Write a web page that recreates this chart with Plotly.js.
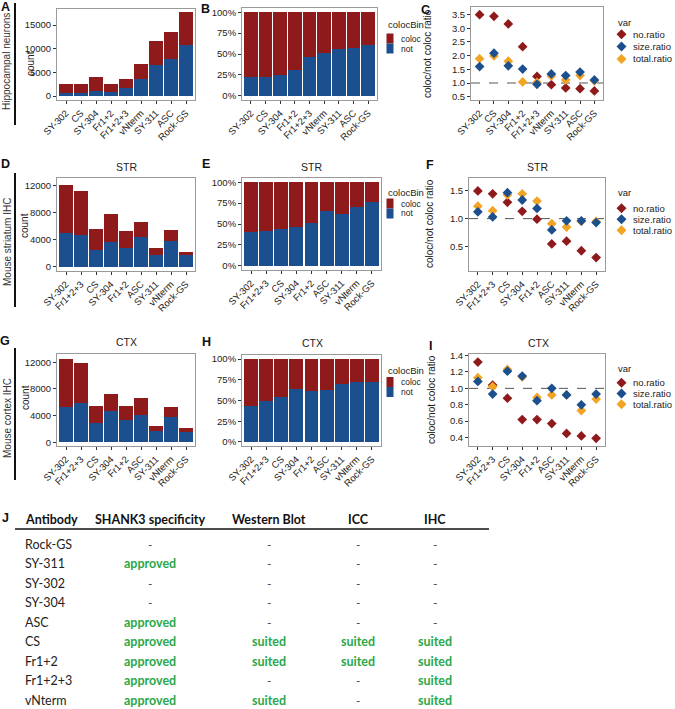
<!DOCTYPE html>
<html>
<head>
<meta charset="utf-8">
<script src="https://cdn.plot.ly/plotly-3.0.1.min.js"></script>
<style>html,body{margin:0;padding:0;background:#fff;}#chart{width:675px;height:709px;}</style>
</head>
<body>
<div id="chart"></div>
<script>
// ---------- DATA ----------
const hippoCats = ['SY-302','CS','SY-304','Fr1+2','Fr1+2+3','vNterm','SY-311','ASC','Rock-GS'];
const hippoNot   = [550, 550, 1000, 790, 1680, 3500, 6500, 7750, 10700];
const hippoColoc = [1910, 1910, 3080, 1810, 1980, 3260, 5200, 5850, 7000];
const hippoNoRatio    = [3.50, 3.44, 3.16, 2.33, 1.24, 0.94, 0.82, 0.79, 0.71];
const hippoSizeRatio  = [1.60, 2.09, 1.63, 1.51, 0.95, 1.33, 1.27, 1.40, 1.11];
const hippoTotalRatio = [1.89, 1.99, 1.80, 1.04, 1.02, 1.26, 1.11, 1.27, 1.08];

const mouseCats = ['SY-302','Fr1+2+3','CS','SY-304','Fr1+2','ASC','SY-311','vNterm','Rock-GS'];
const strNot   = [4940, 4640, 2470, 3630, 2720, 4350, 1730, 3800, 1690];
const strColoc = [7160, 6620, 3160, 4220, 2610, 2320, 1040, 1630, 530];
const strNoRatio    = [1.49, 1.44, 1.29, 1.13, 0.99, 0.55, 0.60, 0.43, 0.31];
const strSizeRatio  = [1.12, 1.03, 1.46, 1.33, 1.18, 0.80, 0.96, 0.96, 0.93];
const strTotalRatio = [1.22, 1.14, 1.42, 1.44, 1.31, 0.91, 0.85, 0.95, 0.95];

const ctxNot   = [5350, 5850, 2900, 4650, 3400, 4120, 1750, 3850, 1520];
const ctxColoc = [7150, 6000, 2500, 2600, 2100, 2480, 750, 1450, 580];
const ctxNoRatio    = [1.32, 1.04, 0.88, 0.62, 0.62, 0.57, 0.45, 0.42, 0.39];
const ctxSizeRatio  = [1.085, 0.93, 1.21, 1.15, 0.85, 1.00, 0.92, 0.80, 0.93];
const ctxTotalRatio = [1.13, 1.02, 1.23, 1.14, 0.89, 0.92, 0.92, 0.73, 0.87];

const binNames = ['coloc','not'];
const varNames = ['no.ratio','size.ratio','total.ratio'];

const tableHeader = ['Antibody','SHANK3 specificity','Western Blot','ICC','IHC'];
const tableAntibody    = ['Rock-GS','SY-311','SY-302','SY-304','ASC','CS','Fr1+2','Fr1+2+3','vNterm'];
const tableSpecificity = ['-','approved','-','-','approved','approved','approved','approved','approved'];
const tableWestern     = ['-','-','-','-','-','suited','suited','-','suited'];
const tableICC         = ['-','-','-','-','-','suited','suited','-','-'];
const tableIHC         = ['-','-','-','-','-','suited','suited','suited','suited'];

// ---------- STYLE / LAYOUT HELPERS ----------
const W = 675, H = 709;
const RED = '#8e1a1c', BLUE = '#1c4f8e', ORANGE = '#f2a425', GREEN = '#2aa84a';
const FONT = 'Liberation Sans, Arial, sans-serif';
const TFONT = 'Lato, Noto Sans, sans-serif';
const px = x => x / W;
const py = y => 1 - y / H;
const xdom = (a, b) => [a / W, b / W];
const ydom = (t, b) => [1 - b / H, 1 - t / H];

const panels = [
  {k:'',  x:[57,195],  y:[9,100],   yr:[-845, 18380], kind:'count', tv:[0,5000,10000,15000]},
  {k:'2', x:[242,377], y:[8,100],   yr:[-5,105], kind:'pct'},
  {k:'3', x:[471,603], y:[7,100],   yr:[0.378, 3.78], kind:'ratio', tv:[0.5,1,1.5,2,2.5,3,3.5]},
  {k:'4', x:[57,195],  y:[178,271], yr:[-637, 13140], kind:'count', tv:[0,4000,8000,12000]},
  {k:'5', x:[242,381], y:[178,270], yr:[-5,105], kind:'pct'},
  {k:'6', x:[469,605], y:[178,271], yr:[0.071, 1.72], kind:'ratio', tv:[0.5,1,1.5]},
  {k:'7', x:[57,195],  y:[354,446], yr:[-555, 13240], kind:'count', tv:[0,4000,8000,12000]},
  {k:'8', x:[242,381], y:[355,446], yr:[-5,105], kind:'pct'},
  {k:'9', x:[469,605], y:[354,446], yr:[0.297, 1.419], kind:'ratio', tv:[0.4,0.6,0.8,1.0,1.2,1.4]}
];

const layout = {
  width: W, height: H,
  margin: {l:0, r:0, t:0, b:0},
  paper_bgcolor: '#fff', plot_bgcolor: '#fff',
  barmode: 'stack', bargap: 0.08,
  showlegend: false,
  font: {family: FONT, size: 10, color: '#222'},
  annotations: [], shapes: []
};

function axisBase() {
  return {showline:true, mirror:true, linecolor:'#9a9a9a', linewidth:1,
    ticks:'outside', ticklen:3, tickwidth:1, tickcolor:'#333',
    showgrid:false, zeroline:false, fixedrange:true,
    tickfont:{family:FONT, size:9.5, color:'#222'}};
}

panels.forEach(p => {
  const xa = Object.assign(axisBase(), {
    domain: xdom(p.x[0], p.x[1]), anchor: 'y' + p.k, type:'category',
    range: [-0.6, 8.6], tickangle: -45
  });
  const ya = Object.assign(axisBase(), {
    domain: ydom(p.y[0], p.y[1]), anchor: 'x' + p.k, range: p.yr
  });
  if (p.kind === 'count') { ya.tickvals = p.tv; ya.tickformat = 'd'; }
  if (p.kind === 'pct') { ya.tickvals = [0,25,50,75,100]; ya.ticktext = ['0%','25%','50%','75%','100%']; }
  if (p.kind === 'ratio') { ya.tickvals = p.tv; ya.tickformat = '.1f'; }
  layout['xaxis' + p.k] = xa;
  layout['yaxis' + p.k] = ya;
  if (p.kind === 'ratio') {
    layout.shapes.push({type:'line', layer:'below', xref:'x' + p.k + ' domain', x0:0, x1:1,
      yref:'y' + p.k, y0:1, y1:1, line:{color:'#555', width:1, dash:'dash'}});
  }
});

// ---------- TRACES ----------
const traces = [];
function addCounts(cats, notV, colocV, k) {
  traces.push({type:'bar', x:cats, y:notV, name:binNames[1], marker:{color:BLUE}, xaxis:'x'+k, yaxis:'y'+k, hoverinfo:'skip'});
  traces.push({type:'bar', x:cats, y:colocV, name:binNames[0], marker:{color:RED}, xaxis:'x'+k, yaxis:'y'+k, hoverinfo:'skip'});
}
function addPct(cats, notV, colocV, k) {
  const pn = notV.map((v, i) => v / (v + colocV[i]) * 100);
  const pc = pn.map(v => 100 - v);
  traces.push({type:'bar', x:cats, y:pn, name:binNames[1], marker:{color:BLUE}, xaxis:'x'+k, yaxis:'y'+k, hoverinfo:'skip'});
  traces.push({type:'bar', x:cats, y:pc, name:binNames[0], marker:{color:RED}, xaxis:'x'+k, yaxis:'y'+k, hoverinfo:'skip'});
}
function addRatios(cats, noR, sizeR, totR, k) {
  const mk = c => ({symbol:'diamond', size:7.5, color:c, line:{width:0}});
  traces.push({type:'scatter', mode:'markers', x:cats, y:noR, name:varNames[0], marker:mk(RED), xaxis:'x'+k, yaxis:'y'+k, cliponaxis:false});
  traces.push({type:'scatter', mode:'markers', x:cats, y:totR, name:varNames[2], marker:mk(ORANGE), xaxis:'x'+k, yaxis:'y'+k, cliponaxis:false});
  traces.push({type:'scatter', mode:'markers', x:cats, y:sizeR, name:varNames[1], marker:mk(BLUE), xaxis:'x'+k, yaxis:'y'+k, cliponaxis:false});
}
addCounts(hippoCats, hippoNot, hippoColoc, '');
addPct(hippoCats, hippoNot, hippoColoc, '2');
addRatios(hippoCats, hippoNoRatio, hippoSizeRatio, hippoTotalRatio, '3');
addCounts(mouseCats, strNot, strColoc, '4');
addPct(mouseCats, strNot, strColoc, '5');
addRatios(mouseCats, strNoRatio, strSizeRatio, strTotalRatio, '6');
addCounts(mouseCats, ctxNot, ctxColoc, '7');
addPct(mouseCats, ctxNot, ctxColoc, '8');
addRatios(mouseCats, ctxNoRatio, ctxSizeRatio, ctxTotalRatio, '9');

// ---------- ANNOTATIONS ----------
function txt(x, y, text, opts) {
  layout.annotations.push(Object.assign({xref:'paper', yref:'paper', x:px(x), y:py(y), text:text,
    showarrow:false, xanchor:'center', yanchor:'middle', font:{family:FONT, size:10, color:'#222'}}, opts || {}));
}
// panel letters
[['A',5,7],['B',205,9],['C',425,10],['D',5,164],['E',206,164],['F',430,165],['G',5,341],['H',206,342],['I',430,346],['J',5,518]]
  .forEach(([l, x, y]) => txt(x, y, '<b>' + l + '</b>', {font:{family:FONT, size:12.5, color:'#111'}}));
// sub titles
[['STR',126,167],['STR',311,167],['STR',537,167],['CTX',126,342],['CTX',312,343],['CTX',538,343]]
  .forEach(([t, x, y]) => txt(x, y, t, {font:{family:FONT, size:10.5, color:'#222'}}));
// axis titles
[['count',31,64],['count',25,226],['count',25,398]].forEach(([t,x,y]) => txt(x, y, t, {textangle:-90}));
[['coloc/not coloc ratio',428,54],['coloc/not coloc ratio',430,224],['coloc/not coloc ratio',431,400]]
  .forEach(([t,x,y]) => txt(x, y, t, {textangle:-90}));
// row labels + bars
[['Hippocampal neurons',7,62,3,125],['Mouse striatum IHC',7,242,173,307],['Mouse cortex IHC',7,418,348,480]]
  .forEach(([t,x,y,y0,y1]) => {
    txt(x, y, t, {textangle:-90, font:{family:FONT, size:10, color:'#333'}});
    layout.shapes.push({type:'line', xref:'paper', yref:'paper', x0:px(15), x1:px(15), y0:py(y0), y1:py(y1), line:{color:'#111', width:2}});
  });

// custom legends
function binLegend(x, yTitle, yFirst) {
  txt(x, yTitle, 'colocBin', {xanchor:'left', font:{family:FONT, size:9.5, color:'#222'}});
  const step = 10;
  [RED, BLUE].forEach((c, i) => {
    const yc = yFirst + i * step;
    layout.shapes.push({type:'rect', xref:'paper', yref:'paper', x0:px(x+0.5), x1:px(x+7.5), y0:py(yc-step/2), y1:py(yc+step/2), fillcolor:c, line:{width:0}});
    txt(x + 13, yc, binNames[i], {xanchor:'left', font:{family:FONT, size:8.5, color:'#222'}});
  });
}
binLegend(386, 25, 38.5);
binLegend(386, 192, 203.5);
binLegend(386, 370, 382);

function varLegend(x, yTitle, ys) {
  txt(x, yTitle, 'var', {xanchor:'left', font:{family:FONT, size:9.5, color:'#222'}});
  [RED, BLUE, ORANGE].forEach((c, i) => {
    const xc = x + 6, yc = ys[i], r = 5;
    layout.shapes.push({type:'path', xref:'paper', yref:'paper',
      path:`M ${px(xc)} ${py(yc-r)} L ${px(xc+r)} ${py(yc)} L ${px(xc)} ${py(yc+r)} L ${px(xc-r)} ${py(yc)} Z`,
      fillcolor:c, line:{width:0}});
    txt(x + 15, yc, varNames[i], {xanchor:'left', font:{family:FONT, size:9.5, color:'#222'}});
  });
}
varLegend(615.5, 23, [34.3, 46.5, 59]);
varLegend(615.5, 192.5, [208.3, 219.3, 230.3]);
varLegend(615.5, 368, [382.7, 393.5, 404.3]);

// ---------- TABLE J ----------
const colX = [23, 150, 269, 358, 435];
const headerY = 519, rowY0 = 544, rowStep = 19.5;
tableHeader.forEach((h, j) => txt(colX[j], headerY, '<b>' + h + '</b>',
  {xanchor: j === 0 ? 'left' : 'center', font:{family:TFONT, size:12.5, color:'#111'}}));
layout.shapes.push({type:'line', xref:'paper', yref:'paper', x0:px(15), x1:px(489), y0:py(529), y1:py(529), line:{color:'#111', width:1.5}});
const tableCols = [tableSpecificity, tableWestern, tableICC, tableIHC];
tableAntibody.forEach((ab, i) => {
  const y = rowY0 + i * rowStep;
  txt(colX[0], y, ab, {xanchor:'left', font:{family:TFONT, size:12.5, color:'#222'}});
  tableCols.forEach((col, j) => {
    const v = col[i];
    if (v === '-') txt(colX[j+1], y, '-', {font:{family:TFONT, size:12, color:'#444'}});
    else txt(colX[j+1], y, '<b>' + v + '</b>', {font:{family:TFONT, size:12.5, color:GREEN}});
  });
});

Plotly.newPlot('chart', traces, layout, {staticPlot:true, displayModeBar:false});
</script>
</body>
</html>
